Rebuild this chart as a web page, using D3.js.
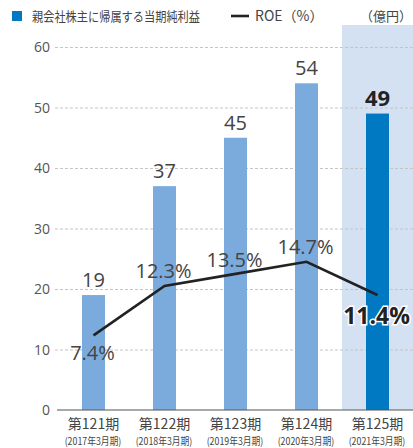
<!DOCTYPE html>
<html>
<head>
<meta charset="utf-8">
<script src="https://cdn.jsdelivr.net/npm/d3@7"></script>
<style>
body { margin: 0; background: #fff; }
text { font-family: "Noto Sans CJK JP", "Noto Sans", sans-serif; }
</style>
</head>
<body>
<div id="content"></div>
<script>
const w = 413
const h = 448

const periods = ["第121期", "第122期", "第123期", "第124期", "第125期"];
const fiscal = ["(2017年3月期)", "(2018年3月期)", "(2019年3月期)", "(2020年3月期)", "(2021年3月期)"];
const profit = [19, 37, 45, 54, 49];
const roe = [7.4, 12.3, 13.5, 14.7, 11.4];
const yTicks = [0, 10, 20, 30, 40, 50, 60];

let svg = d3.select("#content")
    .append("svg")
    .attr("width", w)
    .attr("height", h)

let x = d3.scaleBand()
    .domain(periods)
    .range([58, 413])
    .paddingInner(0)
    .paddingOuter(0)

let y = d3.scaleLinear()
    .domain([0, 60])
    .range([410, 47])

let yRoe = d3.scaleLinear()
    .domain([0, 36])
    .range([410, 47])

let cx = (d) => x(d) + x.bandwidth() / 2

// highlight band for latest period
svg.append("rect")
    .attr("x", cx(periods[4]) - 35.5)
    .attr("y", 25)
    .attr("width", 80)
    .attr("height", 410 - 25)
    .attr("fill", "#d4e1f3")

// gridlines + tick labels
svg.append("g")
    .call(d3.axisLeft(y).tickValues(yTicks).tickSize(0).tickPadding(0))
    .call(g => g.select(".domain").remove())
    .call(g => g.selectAll(".tick text")
        .attr("x", 50)
        .attr("dy", "0.35em")
        .attr("fill", "#555")
        .style("font-size", "14px")
        .style("font-family", "'Open Sans', 'Noto Sans', sans-serif"))
    .call(g => g.selectAll(".tick").filter(d => d > 0).append("line")
        .attr("x1", 55).attr("x2", 413)
        .attr("stroke", "#c4c4c4")
        .attr("stroke-dasharray", "3,2"))

// bars
svg.selectAll(".bar")
    .data(profit)
    .enter()
    .append("rect")
    .attr("class", "bar")
    .attr("x", (d, i) => cx(periods[i]) - 11.5)
    .attr("y", (d) => y(d))
    .attr("width", 23)
    .attr("height", (d) => y(0) - y(d))
    .attr("fill", (d, i) => i == 4 ? "#0079c2" : "#7aabdc")

// baseline
svg.append("line")
    .attr("x1", 57).attr("x2", 413)
    .attr("y1", y(0)).attr("y2", y(0))
    .attr("stroke", "#555")
    .attr("stroke-width", 1.2)

// bar labels
svg.selectAll(".blabel")
    .data(profit)
    .enter()
    .append("text")
    .attr("x", (d, i) => cx(periods[i]))
    .attr("y", (d) => y(d) - 8)
    .attr("text-anchor", "middle")
    .attr("fill", (d, i) => i == 4 ? "#222" : "#444")
    .style("font-size", (d, i) => i == 4 ? "22px" : "20px")
    .style("font-weight", (d, i) => i == 4 ? "bold" : "normal")
    .style("font-family", "'Open Sans', 'Noto Sans', sans-serif")
    .text((d) => d)

// ROE line
let line = d3.line()
    .x((d, i) => cx(periods[i]))
    .y((d) => yRoe(d))

svg.append("path")
    .datum(roe)
    .attr("d", line)
    .attr("fill", "none")
    .attr("stroke", "#222")
    .attr("stroke-width", 2.6)

// ROE labels
const roeOffset = [25, -8, -7, -8, 29]
svg.selectAll(".rlabel")
    .data(roe)
    .enter()
    .append("text")
    .attr("x", (d, i) => cx(periods[i]) - 1)
    .attr("y", (d, i) => yRoe(d) + roeOffset[i])
    .attr("text-anchor", "middle")
    .attr("fill", (d, i) => i == 4 ? "#222" : "#444")
    .attr("stroke", "#fff")
    .attr("stroke-width", (d, i) => i == 4 ? 3 : 0)
    .attr("paint-order", "stroke")
    .style("font-size", (d, i) => i == 4 ? "23px" : "20px")
    .style("font-weight", (d, i) => i == 4 ? "bold" : "normal")
    .style("font-family", "'Open Sans', 'Noto Sans', sans-serif")
    .text((d) => d.toFixed(1) + "%")

// x labels
svg.selectAll(".xlab")
    .data(periods)
    .enter()
    .append("text")
    .attr("x", (d) => cx(d))
    .attr("y", 429)
    .attr("text-anchor", "middle")
    .attr("fill", "#444")
    .style("font-size", "14px")
    .text((d) => d)

// condensed sub labels
svg.selectAll(".xsub")
    .data(fiscal)
    .enter()
    .append("text")
    .attr("transform", (d, i) => "translate(" + (cx(periods[i]) - 0.5) + ",445) scale(0.88,1)")
    .attr("text-anchor", "middle")
    .attr("fill", "#444")
    .style("font-size", "10px")
    .text((d) => d)

// legend
svg.append("rect")
    .attr("x", 12).attr("y", 11)
    .attr("width", 10).attr("height", 10)
    .attr("fill", "#0079c2")
svg.append("text")
    .attr("x", 32).attr("y", 21)
    .attr("fill", "#444")
    .attr("textLength", 168)
    .attr("lengthAdjust", "spacingAndGlyphs")
    .style("font-size", "13px")
    .text("親会社株主に帰属する当期純利益")
svg.append("line")
    .attr("x1", 231).attr("x2", 249)
    .attr("y1", 16).attr("y2", 16)
    .attr("stroke", "#222")
    .attr("stroke-width", 2.6)
svg.append("text")
    .attr("x", 255).attr("y", 21)
    .attr("fill", "#444")
    .style("font-size", "14px")
    .text("ROE（%）")
svg.append("text")
    .attr("x", 412).attr("y", 21)
    .attr("text-anchor", "end")
    .attr("fill", "#444")
    .style("font-size", "13px")
    .text("（億円）")
</script>
</body>
</html>
